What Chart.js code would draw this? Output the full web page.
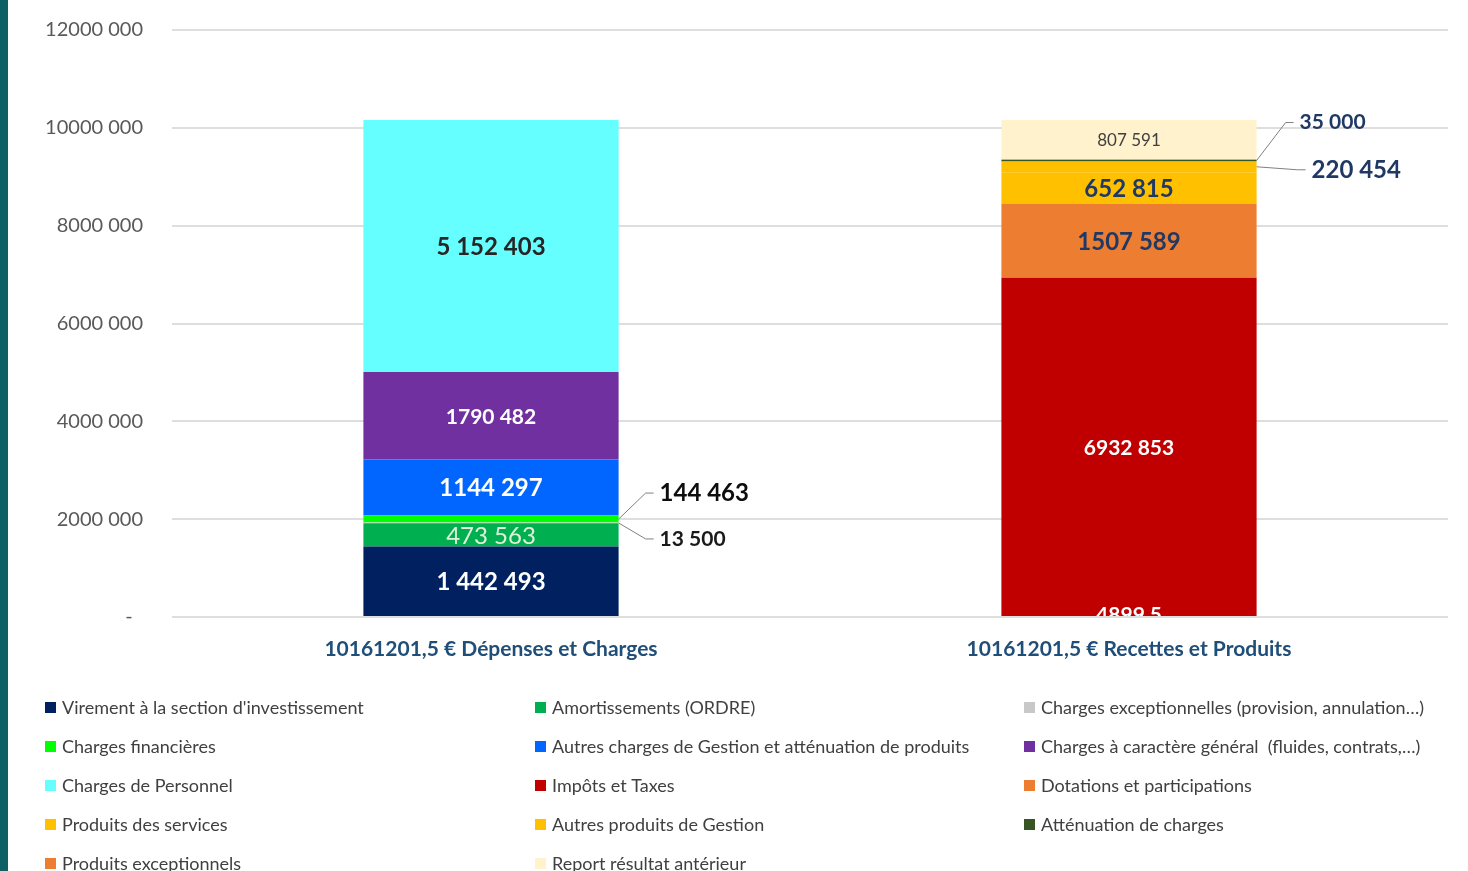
<!DOCTYPE html>
<html>
<head>
<meta charset="utf-8">
<script src="https://cdn.jsdelivr.net/npm/chart.js@4.4.1/dist/chart.umd.min.js"></script>
<style>
  html, body { margin: 0; padding: 0; background: #fff; overflow: hidden; }
  #wrap { position: relative; width: 1468px; height: 871px; }
  #stripe { position: absolute; left: 0; top: 0; width: 8px; height: 871px; background: #0f6064; }
</style>
</head>
<body>
<div id="wrap">
  <canvas id="chart" width="1468" height="871"></canvas>
  <div id="stripe"></div>
</div>
<script>
// categories (x axis)
const categories = ['10161201,5 € Dépenses et Charges', '10161201,5 € Recettes et Produits'];

// series, in legend / stacking order
const seriesNames = [
    "Virement à la section d'investissement",
    'Amortissements (ORDRE)',
    'Charges exceptionnelles (provision, annulation…)',
    'Charges financières',
    'Autres charges de Gestion et atténuation de produits',
    'Charges à caractère général  (fluides, contrats,…)',
    'Charges de Personnel',
    'Impôts et Taxes',
    'Dotations et participations',
    'Produits des services',
    'Autres produits de Gestion',
    'Atténuation de charges',
    'Produits exceptionnels',
    'Report résultat antérieur'
];

// values for the left bar (dépenses) and the right bar (recettes)
const depenses = [1442493, 473563, 13500, 144463, 1144297, 1790482, 5152403, null, null, null, null, null, null, null];
const recettes = [null, null, null, null, null, null, null, 6932853, 1507589, 652815, 220454, 35000, 4899.5, 807591];

// data labels as printed on the chart
const valueLabels = ['1 442 493', '473 563', '13 500', '144 463', '1144 297', '1790 482', '5 152 403',
    '6932 853', '1507 589', '652 815', '220 454', '35 000', '4899,5', '807 591'];

const seriesColors = ['#002060', '#00b050', '#c8c8c8', '#00ff00', '#0066ff', '#7030a0', '#66ffff',
    '#c00000', '#ed7d31', '#ffc000', '#ffc000', '#375623', '#ed7d31', '#fff2cc'];

// y axis tick labels, 0 -> 12 000 000
const yTickLabels = ['-  ', '2000 000', '4000 000', '6000 000', '8000 000', '10000 000', '12000 000'];

// label look per series (style only)
const navy = '#1f3864';
const labelStyles = [
    { color: '#ffffff', weight: 'bold', size: 24 },
    { color: '#e2f0d9', weight: 'normal', size: 24 },
    { color: '#1a1a1a', weight: 'bold', size: 21, callout: [41, 16] },
    { color: '#0d0d0d', weight: 'bold', size: 24, callout: [41, -26] },
    { color: '#ffffff', weight: 'bold', size: 24 },
    { color: '#ffffff', weight: 'bold', size: 21 },
    { color: '#262626', weight: 'bold', size: 24 },
    { color: '#ffffff', weight: 'bold', size: 21 },
    { color: navy, weight: 'bold', size: 24 },
    { color: navy, weight: 'bold', size: 24 },
    { color: navy, weight: 'bold', size: 24, callout: [55, 3] },
    { color: navy, weight: 'bold', size: 21, callout: [43, -38] },
    { color: '#ffffff', weight: 'bold', size: 21, atAxis: -2 },
    { color: '#404040', weight: 'normal', size: 17 }
];

Chart.defaults.font.family = 'Lato, "Open Sans", sans-serif';

// draws the value labels, with leader lines for the thin segments
const dataLabels = {
    id: 'dataLabels',
    afterDatasetsDraw(chart) {
        const ctx = chart.ctx;
        const area = chart.chartArea;
        const zeroY = chart.scales.y.getPixelForValue(0);
        chart.data.datasets.forEach((ds, i) => {
            const meta = chart.getDatasetMeta(i);
            const st = labelStyles[i];
            meta.data.forEach((bar, j) => {
                if (ds.data[j] == null) return;
                const p = bar.getProps(['x', 'y', 'base', 'width'], true);
                const cy = (p.y + p.base) / 2;
                ctx.save();
                ctx.font = `${st.weight} ${st.size}px Lato, "Open Sans", sans-serif`;
                ctx.fillStyle = st.color;
                ctx.textBaseline = 'middle';
                if (st.callout) {
                    const x0 = p.x + p.width / 2;
                    const lx = x0 + st.callout[0];
                    const ly = cy + st.callout[1];
                    ctx.strokeStyle = '#808080';
                    ctx.lineWidth = 1;
                    ctx.beginPath();
                    ctx.moveTo(x0, cy);
                    ctx.lineTo(lx - 14, ly);
                    ctx.lineTo(lx - 6, ly);
                    ctx.stroke();
                    ctx.textAlign = 'left';
                    ctx.fillText(valueLabels[i], lx, ly);
                } else if (st.atAxis !== undefined) {
                    // label sits on the axis line, half hidden
                    ctx.beginPath();
                    ctx.rect(area.left, area.top, area.right - area.left, area.bottom - area.top - 1);
                    ctx.clip();
                    ctx.textAlign = 'center';
                    ctx.fillText(valueLabels[i], p.x, zeroY + st.atAxis);
                } else {
                    ctx.textAlign = 'center';
                    ctx.fillText(valueLabels[i], p.x, cy + 1);
                }
                ctx.restore();
            });
        });
    }
};

// legend laid out in three columns under the chart
const gridLegend = {
    id: 'gridLegend',
    afterDraw(chart) {
        const ctx = chart.ctx;
        const colX = [45, 535, 1024];
        const rowY0 = 707, rowGap = 39;
        ctx.save();
        ctx.font = '18px Lato, "Open Sans", sans-serif';
        ctx.textBaseline = 'middle';
        ctx.textAlign = 'left';
        chart.data.datasets.forEach((ds, i) => {
            const x = colX[i % 3];
            const y = rowY0 + Math.floor(i / 3) * rowGap;
            ctx.fillStyle = ds.backgroundColor;
            ctx.fillRect(x, y - 5, 11, 11);
            ctx.fillStyle = '#404040';
            ctx.fillText(ds.label, x + 17, y + 1);
        });
        ctx.restore();
    }
};

const datasets = seriesNames.map((name, i) => ({
    label: name,
    data: [depenses[i], recettes[i]],
    backgroundColor: seriesColors[i],
    borderWidth: 0,
    stack: 'budget'
}));

new Chart(document.getElementById('chart').getContext('2d'), {
    type: 'bar',
    data: { labels: categories, datasets: datasets },
    options: {
        responsive: false,
        animation: false,
        maintainAspectRatio: false,
        categoryPercentage: 1,
        barPercentage: 0.4,
        layout: { padding: { top: 30, right: 20, bottom: 194, left: 0 } },
        plugins: {
            legend: { display: false },
            tooltip: { enabled: false }
        },
        scales: {
            x: {
                stacked: true,
                grid: { display: false },
                border: { display: false },
                ticks: { color: '#1f4e79', font: { size: 21, weight: 'bold' }, padding: 12 },
                afterFit: s => { s.height = 60; }
            },
            y: {
                stacked: true,
                min: 0,
                max: 12000000,
                ticks: {
                    stepSize: 2000000,
                    color: '#595959',
                    font: { size: 20 },
                    padding: 29,
                    callback: (v, idx) => yTickLabels[idx]
                },
                grid: { color: '#dedede', lineWidth: 2, drawTicks: false },
                border: { display: false },
                afterFit: s => {
                    s.width = 172;
                    s.paddingTop = 0;
                    s.paddingBottom = 0;
                }
            }
        }
    },
    plugins: [dataLabels, gridLegend]
});
</script>
</body>
</html>
